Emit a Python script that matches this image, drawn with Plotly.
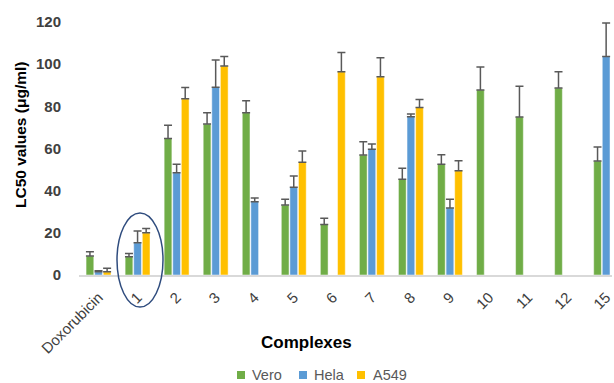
import plotly.graph_objects as go

categories = ["Doxorubicin", "1", "2", "3", "4", "5", "6", "7", "8", "9", "10", "11", "12", "15"]
vero = [9, 8.7, 64.8, 71.6, 77, 33.2, 24, 56.9, 45.4, 52.5, 87.8, 75, 88.7, 54.1]
vero_err = [2, 1.5, 6.2, 5.4, 5.7, 2.7, 2.9, 6.3, 5.2, 4.5, 10.9, 14.5, 7.7, 6.6]
hela = [1.5, 15.3, 48.5, 89, 34.8, 41.6, None, 59.6, 75.1, 31.8, None, None, None, 103.6]
hela_err = [0.5, 5.6, 4, 13, 1.7, 5.4, 0, 2.5, 1.3, 4.1, 0, 0, 0, 15.9]
a549 = [1.5, 20, 83.6, 99.1, None, 53.5, 96.4, 94, 79.5, 49.5, None, None, None, None]
a549_err = [1.7, 2, 5.3, 4.5, 0, 5.3, 9.1, 9, 3.8, 4.7, 0, 0, 0, 0]

series = [
    ("Vero", vero, vero_err, "#70AD47"),
    ("Hela", hela, hela_err, "#5B9BD5"),
    ("A549", a549, a549_err, "#FFC000"),
]

# plot area in pixels: left 79, width 533, top 22, height 253
L, W, T, H = 79, 533, 22, 253
def px(x):
    return (x - L) / W
def py(y):
    return (T + H - y) / H

fig = go.Figure()
for name, vals, errs, color in series:
    fig.add_trace(go.Bar(
        name=name, x=categories, y=vals, showlegend=False,
        marker=dict(color=color, line=dict(color="rgba(255,255,255,0.6)", width=0.8)),
        error_y=dict(type="data", array=errs, arrayminus=[0] * len(errs),
                     color="#595959", thickness=1.5, width=4, symmetric=False),
    ))

annotations = [
    dict(text="<b>Complexes</b>", xref="paper", yref="paper", x=px(306), y=py(342),
         showarrow=False, font=dict(size=17, color="#000000"), xanchor="center", yanchor="middle"),
    dict(text="<b>LC50 values (μg/ml)</b>", xref="paper", yref="paper", x=px(20),
         y=py(135), textangle=-90, showarrow=False,
         font=dict(size=15.5, color="#000000"), xanchor="center", yanchor="middle"),
]
shapes = [
    dict(type="circle", xref="paper", yref="paper", x0=px(117), x1=px(163),
         y0=py(307), y1=py(213), line=dict(color="#2F4C7E", width=1.5)),
]
# manual legend
legend_pos = [(237, 250), (299, 312), (357, 371)]
for (name, _, _, color), (sx, tx) in zip(series, legend_pos):
    shapes.append(dict(type="rect", xref="paper", yref="paper", x0=px(sx), x1=px(sx + 8),
                       y0=py(379), y1=py(371), fillcolor=color, line=dict(width=0)))
    annotations.append(dict(text=name, xref="paper", yref="paper", x=px(tx), y=py(375),
                            showarrow=False, xanchor="left", yanchor="middle",
                            font=dict(size=14.5, color="#595959")))

fig.update_layout(
    template="none",
    width=614, height=383,
    margin=dict(l=L, r=614 - L - W, t=T, b=383 - T - H, autoexpand=False),
    plot_bgcolor="white", paper_bgcolor="white",
    barmode="group", bargap=0.34, bargroupgap=0.1,
    font=dict(family="Liberation Sans, Arial, sans-serif", color="#404040"),
    showlegend=False,
    xaxis=dict(type="category", range=[-0.5, 13.15], showline=True, linecolor="#D9D9D9", linewidth=1.5,
               showgrid=False, tickangle=-45, tickfont=dict(size=15, color="#404040"),
               ticks="outside", ticklen=6, tickcolor="rgba(0,0,0,0)", automargin=False),
    yaxis=dict(range=[0, 120], tickvals=[0, 20, 40, 60, 80, 100, 120], showgrid=False,
               zeroline=False, showline=False, automargin=False,
               tickfont=dict(size=15, color="#404040", weight="bold"),
               ticks="outside", ticklen=14, tickcolor="rgba(0,0,0,0)"),
    annotations=annotations,
    shapes=shapes,
)

fig.write_html("out.html", config={"displayModeBar": False},
               post_script="document.body.style.margin='0';")
